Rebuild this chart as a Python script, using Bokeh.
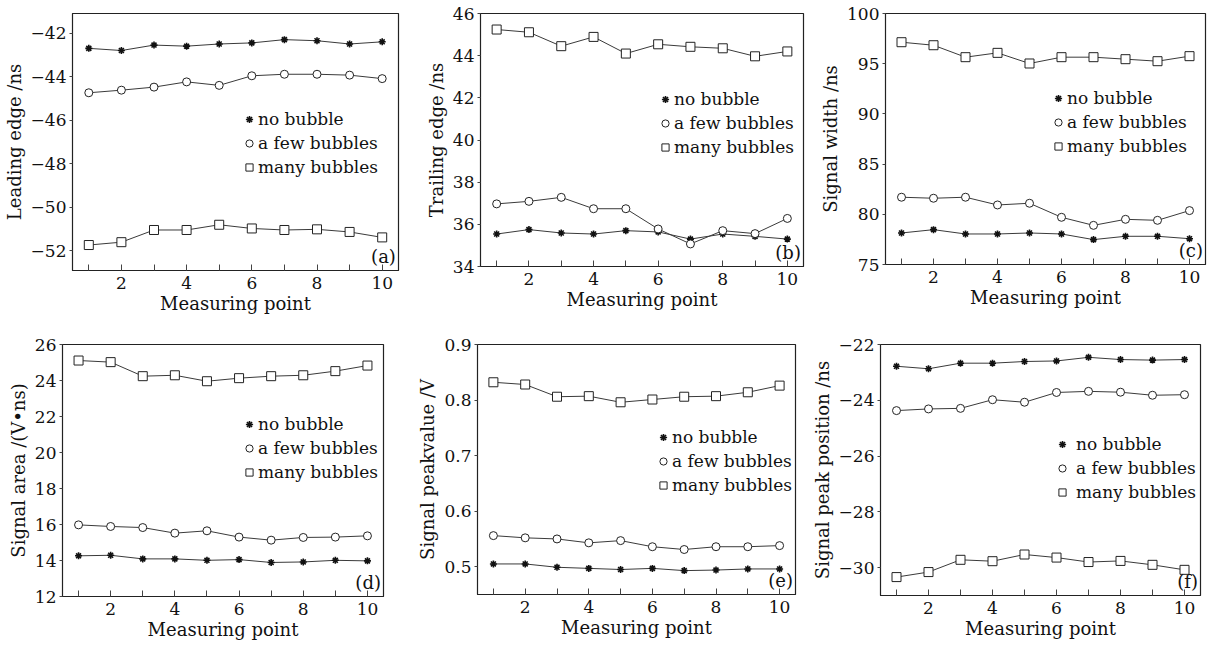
from bokeh.plotting import figure
from bokeh.layouts import column, row
from bokeh.models import (FixedTicker, CustomJSTickFormatter, Legend, LegendItem,
                          Label, Range1d)
from bokeh.embed import file_html
from bokeh.resources import INLINE

# ---------------- data ----------------
points = [1, 2, 3, 4, 5, 6, 7, 8, 9, 10]
series_names = ["no bubble", "a few bubbles", "many bubbles"]

lead_no = [-42.7, -42.8, -42.55, -42.6, -42.5, -42.45, -42.3, -42.35, -42.5, -42.4]
lead_few = [-44.74, -44.62, -44.48, -44.24, -44.4, -43.96, -43.89, -43.89, -43.93, -44.09]
lead_many = [-51.73, -51.6, -51.04, -51.04, -50.8, -50.97, -51.04, -51.01, -51.13, -51.38]

trail_no = [35.54, 35.75, 35.59, 35.54, 35.7, 35.64, 35.3, 35.54, 35.43, 35.3]
trail_few = [36.97, 37.09, 37.28, 36.74, 36.74, 35.78, 35.07, 35.7, 35.56, 36.28]
trail_many = [45.24, 45.11, 44.45, 44.89, 44.1, 44.54, 44.42, 44.35, 43.97, 44.2]

width_no = [78.14, 78.47, 78.04, 78.04, 78.14, 78.04, 77.48, 77.81, 77.81, 77.57]
width_few = [81.7, 81.6, 81.7, 80.93, 81.1, 79.7, 78.9, 79.5, 79.4, 80.37]
width_many = [97.14, 96.84, 95.65, 96.08, 95.02, 95.65, 95.65, 95.45, 95.25, 95.75]

area_no = [14.26, 14.29, 14.09, 14.09, 14.01, 14.05, 13.89, 13.92, 14.01, 13.98]
area_few = [15.98, 15.89, 15.83, 15.52, 15.65, 15.3, 15.13, 15.28, 15.3, 15.37]
area_many = [25.11, 25.02, 24.24, 24.29, 23.96, 24.13, 24.24, 24.29, 24.52, 24.83]

peak_no = [0.505, 0.505, 0.499, 0.497, 0.495, 0.497, 0.493, 0.494, 0.496, 0.496]
peak_few = [0.556, 0.552, 0.550, 0.543, 0.547, 0.536, 0.531, 0.536, 0.536, 0.538]
peak_many = [0.832, 0.828, 0.806, 0.807, 0.796, 0.801, 0.806, 0.807, 0.814, 0.826]

pos_no = [-22.78, -22.87, -22.67, -22.67, -22.61, -22.59, -22.46, -22.54, -22.56, -22.54]
pos_few = [-24.37, -24.31, -24.29, -23.98, -24.07, -23.72, -23.68, -23.71, -23.82, -23.8]
pos_many = [-30.34, -30.16, -29.72, -29.77, -29.53, -29.64, -29.8, -29.76, -29.9, -30.08]

x_major = [2, 4, 6, 8, 10]
x_minor = [1, 3, 5, 7, 9]

FONT = "DejaVu Serif"
LINE = "#3a3a3a"

fmt = CustomJSTickFormatter(code="""
    const s = Math.abs(tick).toString();
    return tick < 0 ? "\u2212" + s : s;
""")


def panel(ylabel, tag, no, few, many, yr, yticks, geom, leg_loc, leg_standoff=0):
    bl, bt, fw, fh, br, bb = geom
    p = figure(frame_width=fw, frame_height=fh, min_border_left=bl, min_border_top=bt,
               min_border_right=br, min_border_bottom=bb,
               x_range=Range1d(0.5, 10.5), y_range=Range1d(*yr),
               output_backend="svg", toolbar_location=None, background_fill_color="white",
               border_fill_color="white")
    p.grid.visible = False
    p.outline_line_color = "#222222"
    p.outline_line_width = 1.2

    xa = p.xaxis[0]
    xa.ticker = FixedTicker(ticks=x_major, minor_ticks=x_minor)
    xa.major_tick_in = 6
    xa.major_tick_out = 0
    xa.minor_tick_in = 6
    xa.minor_tick_out = 0
    xa.axis_label = "Measuring point"
    xa.major_label_standoff = 6

    ya = p.yaxis[0]
    ya.ticker = FixedTicker(ticks=yticks, minor_ticks=[])
    ya.major_tick_in = 0
    ya.major_tick_out = 3
    ya.minor_tick_in = 0
    ya.minor_tick_out = 0
    ya.axis_label = ylabel
    ya.major_label_standoff = 3
    ya.formatter = fmt

    for ax in (xa, ya):
        ax.axis_line_color = "#222222"
        ax.major_tick_line_color = "#444444"
        ax.minor_tick_line_color = "#444444"
        ax.major_label_text_font = FONT
        ax.major_label_text_font_size = "17px"
        ax.major_label_text_color = "#111111"
        ax.axis_label_text_font = FONT
        ax.axis_label_text_font_size = "18px"
        ax.axis_label_text_font_style = "normal"
        ax.axis_label_text_color = "#111111"
    xa.axis_label_standoff = 1
    ya.axis_label_standoff = 3

    p.line(points, no, line_color=LINE, line_width=1)
    m1 = p.scatter(points, no, marker="asterisk", size=7, line_color="#111111", line_width=1.6)
    p.line(points, few, line_color=LINE, line_width=1)
    m2 = p.scatter(points, few, marker="circle", size=8, line_color="#222222",
                   fill_color="white", line_width=1)
    p.line(points, many, line_color=LINE, line_width=1)
    m3 = p.scatter(points, many, marker="square", size=9, line_color="#222222",
                   fill_color="white", line_width=1)

    leg = Legend(items=[LegendItem(label=series_names[0], renderers=[m1]),
                        LegendItem(label=series_names[1], renderers=[m2]),
                        LegendItem(label=series_names[2], renderers=[m3])],
                 location=leg_loc, border_line_color=None, background_fill_alpha=0,
                 label_text_font=FONT, label_text_font_size="17px",
                 label_text_color="#111111",
                 glyph_width=18, glyph_height=24, label_height=24, label_standoff=leg_standoff,
                 padding=0, margin=0, spacing=0)
    p.add_layout(leg, "center")

    lab = Label(x=p.x_range.end - 0.08, y=yr[0] + (yr[1] - yr[0]) * 0.015, text=tag,
                text_align="right", text_baseline="bottom", text_font=FONT,
                text_font_size="18px", text_color="#111111")
    p.add_layout(lab)
    return p


pa = panel("Leading edge /ns", "(a)", lead_no, lead_few, lead_many, (-52.9, -41.1),
           [-52, -50, -48, -46, -44, -42], (62, 4, 326, 257, 14, 71), (168, 91))
pb = panel("Trailing edge /ns", "(b)", trail_no, trail_few, trail_many, (34, 46),
           [34, 36, 38, 40, 42, 44, 46], (68, 6, 323, 253, 14, 73), (176, 107))
pc = panel("Signal width /ns", "(c)", width_no, width_few, width_many, (75, 100),
           [75, 80, 85, 90, 95, 100], (68, 13, 320, 251, 9, 68), (164, 106))
pd = panel("Signal area /(V\u2022ns)", "(d)", area_no, area_few, area_many, (12, 26),
           [12, 14, 16, 18, 20, 22, 24, 26], (62, 8, 321, 252, 19, 49), (178, 112))
pe = panel("Signal peakvalue /V", "(e)", peak_no, peak_few, peak_many, (0.45, 0.9),
           [0.5, 0.6, 0.7, 0.8, 0.9], (75, 12, 318, 250, 12, 47), (177, 97))
pf = panel("Signal peak position /ns", "(f)", pos_no, pos_few, pos_many, (-31, -22),
           [-30, -28, -26, -24, -22], (73, 11, 320, 251, 4, 47), (173, 91), leg_standoff=5)

layout = column(row(pa, pb, pc, spacing=0), row(pd, pe, pf, spacing=0), spacing=0)

open("out.html", "w").write(file_html(layout, INLINE))
